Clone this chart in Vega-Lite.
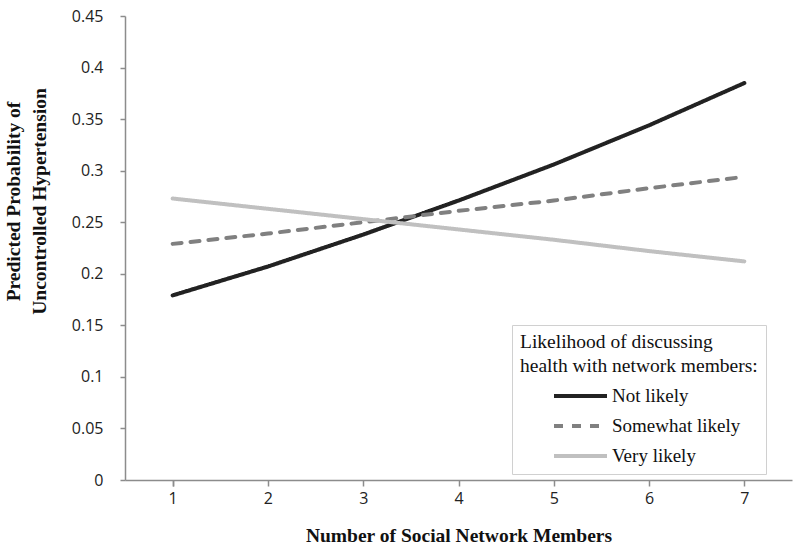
{
  "$schema": "https://vega.github.io/schema/vega-lite/v6.json",
  "autosize": "none",
  "width": 667,
  "height": 464,
  "padding": {"left": 125, "top": 16, "right": 8, "bottom": 69},
  "background": "white",
  "config": {"view": {"stroke": null}},
  "data": {"values": [
    {"members": 1, "likelihood": "Not likely", "p": 0.179},
    {"members": 2, "likelihood": "Not likely", "p": 0.207},
    {"members": 3, "likelihood": "Not likely", "p": 0.238},
    {"members": 4, "likelihood": "Not likely", "p": 0.271},
    {"members": 5, "likelihood": "Not likely", "p": 0.306},
    {"members": 6, "likelihood": "Not likely", "p": 0.344},
    {"members": 7, "likelihood": "Not likely", "p": 0.385},
    {"members": 1, "likelihood": "Somewhat likely", "p": 0.229},
    {"members": 2, "likelihood": "Somewhat likely", "p": 0.239},
    {"members": 3, "likelihood": "Somewhat likely", "p": 0.250},
    {"members": 4, "likelihood": "Somewhat likely", "p": 0.261},
    {"members": 5, "likelihood": "Somewhat likely", "p": 0.271},
    {"members": 6, "likelihood": "Somewhat likely", "p": 0.283},
    {"members": 7, "likelihood": "Somewhat likely", "p": 0.294},
    {"members": 1, "likelihood": "Very likely", "p": 0.273},
    {"members": 2, "likelihood": "Very likely", "p": 0.263},
    {"members": 3, "likelihood": "Very likely", "p": 0.253},
    {"members": 4, "likelihood": "Very likely", "p": 0.243},
    {"members": 5, "likelihood": "Very likely", "p": 0.233},
    {"members": 6, "likelihood": "Very likely", "p": 0.222},
    {"members": 7, "likelihood": "Very likely", "p": 0.212}
  ]},
  "mark": {"type": "line", "strokeWidth": 4, "strokeCap": "round"},
  "encoding": {
    "x": {
      "field": "members", "type": "ordinal",
      "scale": {"type": "point", "padding": 0.5},
      "axis": {
        "title": "Number of Social Network Members",
        "titleFont": "Liberation Serif", "titleFontWeight": "bold", "titleFontSize": 19.5, "titleColor": "#111",
        "titlePadding": 20,
        "labelFont": "Open Sans", "labelFontSize": 16, "labelColor": "#222", "labelAngle": 0, "labelPadding": 4,
        "domainColor": "#8c8c8c", "domainWidth": 1.5, "tickColor": "#8c8c8c", "tickWidth": 1.5, "tickSize": 6,
        "tickBand": "extent", "grid": false
      }
    },
    "y": {
      "field": "p", "type": "quantitative",
      "scale": {"domain": [0, 0.45], "nice": false},
      "axis": {
        "title": ["Predicted Probability of", "Uncontrolled Hypertension"],
        "titleFont": "Liberation Serif", "titleFontWeight": "bold", "titleFontSize": 19.5, "titleColor": "#111",
        "titleAngle": -90, "titleAlign": "center", "titleBaseline": "top", "titleLineHeight": 26,
        "titleX": -121, "titleY": 185,
        "values": [0, 0.05, 0.1, 0.15, 0.2, 0.25, 0.3, 0.35, 0.4, 0.45],
        "format": "~g",
        "labelFont": "Open Sans", "labelFontSize": 16, "labelColor": "#222", "labelPadding": 17,
        "domainColor": "#8c8c8c", "domainWidth": 1.5, "tickColor": "#8c8c8c", "tickWidth": 1.5, "tickSize": 5,
        "grid": false
      }
    },
    "color": {
      "field": "likelihood", "type": "nominal",
      "scale": {"domain": ["Not likely", "Somewhat likely", "Very likely"], "range": ["#222222", "#808080", "#c0c0c0"]},
      "legend": {
        "title": ["Likelihood of discussing", "health with network members:"],
        "orient": "none", "legendX": 387, "legendY": 309,
        "titleFont": "Liberation Serif", "titleFontWeight": "normal", "titleFontSize": 19.5, "titleColor": "#111",
        "titleLineHeight": 24, "titlePadding": 4, "titleLimit": 0,
        "labelFont": "Liberation Serif", "labelFontSize": 19, "labelColor": "#111", "labelOffset": 16, "labelLimit": 0,
        "symbolType": "M-2,0L2,0", "symbolSize": 702, "symbolStrokeWidth": 4, "symbolOffset": 45,
        "rowPadding": 4,
        "strokeColor": "#d0d0d0", "fillColor": "white", "padding": 8
      }
    },
    "strokeDash": {
      "field": "likelihood", "type": "nominal",
      "scale": {"domain": ["Not likely", "Somewhat likely", "Very likely"], "range": [[1, 0], [9, 9], [1, 0]]},
      "legend": null
    }
  }
}
